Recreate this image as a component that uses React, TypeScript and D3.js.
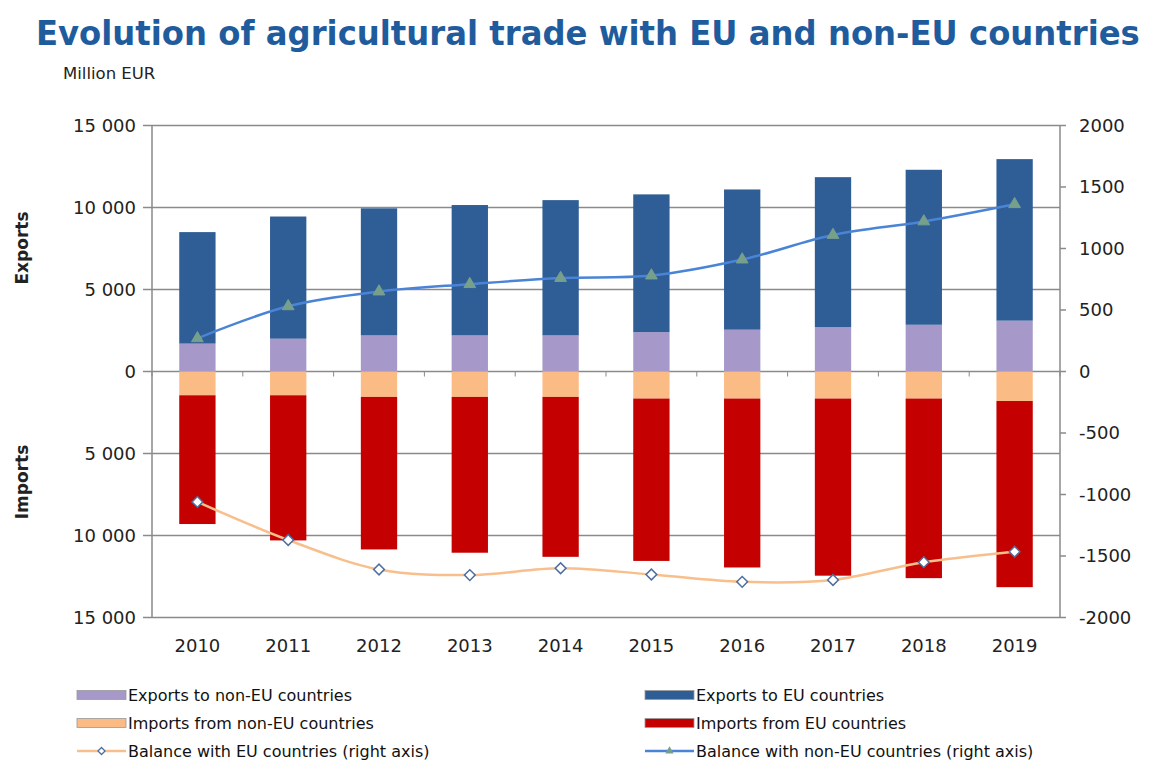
import React, { useLayoutEffect, useRef, useState } from "react";
import * as d3 from "d3";

const years = ["2010", "2011", "2012", "2013", "2014", "2015", "2016", "2017", "2018", "2019"];
const exportsNonEU = [1700, 2000, 2200, 2200, 2200, 2400, 2550, 2700, 2850, 3100];
const exportsEU = [6800, 7450, 7750, 7950, 8250, 8400, 8550, 9150, 9450, 9850];
const importsNonEU = [1450, 1450, 1550, 1550, 1550, 1650, 1650, 1650, 1650, 1800];
const importsEU = [7850, 8850, 9300, 9500, 9750, 9900, 10300, 10800, 10950, 11350];
const balanceNonEU = [270, 530, 650, 710, 760, 780, 910, 1110, 1220, 1360];
const balanceEU = [-1060, -1370, -1610, -1655, -1600, -1650, -1710, -1695, -1550, -1465];
const leftTicks = [-15000, -10000, -5000, 0, 5000, 10000, 15000];
const rightTicks = [-2000, -1500, -1000, -500, 0, 500, 1000, 1500, 2000];

const C = {
  purple: "#a699c9",
  blue: "#2f5d96",
  peach: "#fbbb85",
  red: "#c40000",
  lineBlue: "#4a84d6",
  tri: "#76a08c",
  lineOrange: "#f8bf8c",
  diamond: "#4d6e9e",
  grid: "#8a8a8a",
  title: "#1f5c9e",
};

const FONT = "'DejaVu Sans', Verdana, sans-serif";

export default function App() {
  const W = 1158, H = 765;
  const L = 152, R = 1060, T = 125.5, B = 617.5;
  const titleRef = useRef<SVGTextElement>(null);
  const [sx, setSx] = useState(0.8);
  useLayoutEffect(() => {
    if (titleRef.current) {
      const w = titleRef.current.getComputedTextLength();
      if (w > 0) setSx(1104 / w);
    }
  }, []);

  const x = d3.scaleBand<string>().domain(years).range([L, R]).paddingInner(0.6).paddingOuter(0.3);
  const xc = (i: number) => (x(years[i]) as number) + x.bandwidth() / 2;
  const band = (R - L) / years.length;
  const y = d3.scaleLinear().domain([-15000, 15000]).range([B, T]);
  const y2 = d3.scaleLinear().domain([-2000, 2000]).range([B, T]);
  const fmt = (v: number) => d3.format(",")(Math.abs(v)).replace(/,/g, " ");

  const smooth = d3.line<number>().x((_, i) => xc(i)).y((d) => y2(d)).curve(d3.curveCatmullRom.alpha(0));
  const tri = d3.symbol().type(d3.symbolTriangle).size(60)();
  const triSmall = d3.symbol().type(d3.symbolTriangle).size(30)();

  const legendRows = [
    { x: 77, y: 695, label: "Exports to non-EU countries", kind: "bar", color: C.purple },
    { x: 645, y: 695, label: "Exports to EU countries", kind: "bar", color: C.blue },
    { x: 77, y: 723, label: "Imports from non-EU countries", kind: "bar", color: C.peach },
    { x: 645, y: 723, label: "Imports from EU countries", kind: "bar", color: C.red },
    { x: 77, y: 751, label: "Balance with EU countries (right axis)", kind: "eu", color: C.lineOrange },
    { x: 645, y: 751, label: "Balance with non-EU countries (right axis)", kind: "non", color: C.lineBlue },
  ];

  return (
    <svg width={W} height={H} style={{ position: "absolute", left: 0, top: 0, background: "#fff" }} fontFamily={FONT}>
      <rect x={0} y={0} width={W} height={H} fill="#fff" />
      <g transform={`translate(36,45) scale(${sx},1)`}>
        <text ref={titleRef} x={0} y={0} fontSize={33} fontWeight="bold" fill={C.title}>
          Evolution of agricultural trade with EU and non-EU countries
        </text>
      </g>
      <text x={63} y={79} fontSize={16.5} fill="#222">Million EUR</text>

      {leftTicks.map((t) => (
        <line key={"g" + t} x1={L} x2={R} y1={y(t)} y2={y(t)} stroke={C.grid} strokeWidth={1.5} />
      ))}
      <line x1={L} x2={L} y1={T} y2={B} stroke={C.grid} strokeWidth={1.5} />
      <line x1={R} x2={R} y1={T} y2={B} stroke={C.grid} strokeWidth={1.5} />

      {leftTicks.map((t) => (
        <g key={"l" + t}>
          <line x1={L - 9} x2={L} y1={y(t)} y2={y(t)} stroke={C.grid} strokeWidth={1.5} />
          <text x={136} y={y(t)} dy="0.36em" textAnchor="end" fontSize={18} fill="#222">{fmt(t)}</text>
        </g>
      ))}
      {rightTicks.map((t) => (
        <g key={"r" + t}>
          <line x1={R} x2={R + 6} y1={y2(t)} y2={y2(t)} stroke={C.grid} strokeWidth={1.5} />
          <text x={1079} y={y2(t)} dy="0.36em" textAnchor="start" fontSize={18} fill="#222">{t}</text>
        </g>
      ))}

      <text transform={`translate(28,248) rotate(-90)`} textAnchor="middle" fontSize={17} fontWeight="bold" fill="#222">Exports</text>
      <text transform={`translate(28,482) rotate(-90)`} textAnchor="middle" fontSize={17} fontWeight="bold" fill="#222">Imports</text>

      {years.map((yr, i) => {
        const bx = x(yr) as number;
        const bw = x.bandwidth();
        return (
          <g key={"b" + yr}>
            <rect x={bx} y={y(exportsNonEU[i])} width={bw} height={y(0) - y(exportsNonEU[i])} fill={C.purple} />
            <rect x={bx} y={y(exportsNonEU[i] + exportsEU[i])} width={bw} height={y(exportsNonEU[i]) - y(exportsNonEU[i] + exportsEU[i])} fill={C.blue} />
            <rect x={bx} y={y(0)} width={bw} height={y(-importsNonEU[i]) - y(0)} fill={C.peach} />
            <rect x={bx} y={y(-importsNonEU[i])} width={bw} height={y(-importsNonEU[i] - importsEU[i]) - y(-importsNonEU[i])} fill={C.red} />
          </g>
        );
      })}

      {d3.range(years.length + 1).map((k) => (
        <line key={"ct" + k} x1={L + k * band} x2={L + k * band} y1={y(0)} y2={y(0) + 5} stroke={C.grid} strokeWidth={1} />
      ))}

      {years.map((yr, i) => (
        <text key={"x" + yr} x={xc(i)} y={646} dy="0.36em" textAnchor="middle" fontSize={18} fill="#222">{yr}</text>
      ))}

      <path d={smooth(balanceNonEU) || ""} fill="none" stroke={C.lineBlue} strokeWidth={2.5} />
      {balanceNonEU.map((v, i) => (
        <path key={"t" + i} d={tri || ""} transform={`translate(${xc(i)},${y2(v)})`} fill={C.tri} stroke={C.tri} strokeWidth={1} />
      ))}
      <path d={smooth(balanceEU) || ""} fill="none" stroke={C.lineOrange} strokeWidth={2.5} />
      {balanceEU.map((v, i) => (
        <rect key={"d" + i} x={-3.8} y={-3.8} width={7.6} height={7.6} transform={`translate(${xc(i)},${y2(v)}) rotate(45)`} fill="#fff" stroke={C.diamond} strokeWidth={1.5} />
      ))}

      {legendRows.map((r) => (
        <g key={r.label}>
          {r.kind === "bar" ? (
            <rect x={r.x} y={r.y - 4.5} width={49} height={9} fill={r.color} stroke="#999" strokeWidth={0.8} />
          ) : (
            <g>
              <line x1={r.x} x2={r.x + 49} y1={r.y} y2={r.y} stroke={r.color} strokeWidth={2.5} />
              {r.kind === "eu" ? (
                <rect x={-2.5} y={-2.5} width={5} height={5} transform={`translate(${r.x + 24.5},${r.y}) rotate(45)`} fill="#fff" stroke={C.diamond} strokeWidth={1.3} />
              ) : (
                <path d={triSmall || ""} transform={`translate(${r.x + 24.5},${r.y})`} fill={C.tri} />
              )}
            </g>
          )}
          <text x={r.x + 51} y={r.y} dy="0.36em" fontSize={16} fill="#111">{r.label}</text>
        </g>
      ))}
    </svg>
  );
}
